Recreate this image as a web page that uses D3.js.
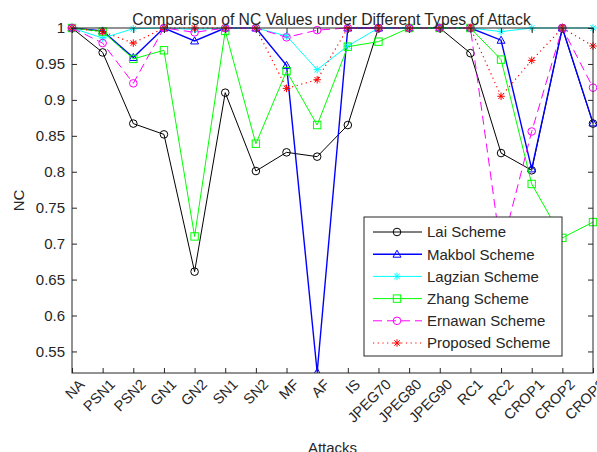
<!DOCTYPE html>
<html><head><meta charset="utf-8">
<script src="https://cdnjs.cloudflare.com/ajax/libs/d3/7.8.5/d3.min.js"></script>
<style>
html,body{margin:0;padding:0;background:#fff;}
svg{display:block;font-family:"Liberation Sans",Arial,Helvetica,sans-serif;}
</style></head>
<body>
<svg id="chart" width="597" height="452"></svg>
<script>
const categories = ["NA","PSN1","PSN2","GN1","GN2","SN1","SN2","MF","AF","IS","JPEG70","JPEG80","JPEG90","RC1","RC2","CROP1","CROP2","CROP3"];
const yTicks = [0.55,0.6,0.65,0.7,0.75,0.8,0.85,0.9,0.95,1];
const seriesNames = ["Lai Scheme","Makbol Scheme","Lagzian Scheme","Zhang Scheme","Ernawan Scheme","Proposed Scheme"];
const lai      = [1, 0.966, 0.867, 0.852, 0.661, 0.910, 0.801, 0.827, 0.821, 0.865, 1, 1, 1, 0.965, 0.826, 0.802, 1, 0.867];
const makbol   = [1, 0.996, 0.959, 1, 0.982, 1, 1, 0.948, 0.521, 1, 1, 1, 1, 1, 0.983, 0.804, 1, 0.868];
const lagzian  = [1, 0.986, 0.999, 1, 0.998, 1, 1, 0.989, 0.942, 0.975, 1, 1, 1, 1, 0.995, 1, 1, 1];
const zhang    = [1, 0.995, 0.957, 0.969, 0.710, 0.996, 0.839, 0.940, 0.865, 0.974, 0.981, 1, 1, 1, 0.956, 0.783, 0.708, 0.730];
const ernawan  = [1, 0.979, 0.923, 1, 0.994, 1, 1, 0.987, 0.997, 1, 1, 1, 1, 1, 0.690, 0.856, 1, 0.917];
const proposed = [1, 0.995, 0.979, 1, 1, 1, 1, 0.916, 0.928, 1, 1, 1, 1, 1, 0.905, 0.955, 1, 0.975];

const seriesData = [lai, makbol, lagzian, zhang, ernawan, proposed];
const styles = [
  {color:"#000000", dash:null, marker:"circle", width:1},
  {color:"#0000ff", dash:null, marker:"triangle", width:1.4},
  {color:"#00ffff", dash:null, marker:"star", width:1},
  {color:"#00ff00", dash:null, marker:"square", width:1},
  {color:"#ff00ff", dash:"9,5", marker:"circle", width:1},
  {color:"#ff0000", dash:"1.2,3.5", marker:"star", width:1.2}
];

const svg = d3.select("#chart");
const L = 72, R = 593, T = 28, B = 373;
const x = d3.scalePoint().domain(categories).range([L, R]);
const y = d3.scaleLinear().domain([0.52, 1]).range([B, T]);
const axisColor = "#262626";

svg.append("rect").attr("x",0).attr("y",0).attr("width",597).attr("height",452).attr("fill","#fff");

const defs = svg.append("defs");
defs.append("clipPath").attr("id","clip").append("rect")
  .attr("x", L-6).attr("y", T-6).attr("width", R-L+12).attr("height", B-T+6);

function drawMarker(g, type, cx, cy, color){
  if(type==="circle"){
    g.append("circle").attr("cx",cx).attr("cy",cy).attr("r",3.8)
     .attr("fill","none").attr("stroke",color).attr("stroke-width",1);
  } else if(type==="square"){
    g.append("rect").attr("x",cx-3.7).attr("y",cy-3.7).attr("width",7.4).attr("height",7.4)
     .attr("fill","none").attr("stroke",color).attr("stroke-width",1);
  } else if(type==="triangle"){
    const s=4;
    g.append("path").attr("d",`M${cx},${cy-s}L${cx+s},${cy+s*0.75}L${cx-s},${cy+s*0.75}Z`)
     .attr("fill","none").attr("stroke",color).attr("stroke-width",1);
  } else if(type==="star"){
    const s=3.8, d=s*0.72;
    g.append("path").attr("d",`M${cx-s},${cy}H${cx+s}M${cx},${cy-s}V${cy+s}M${cx-d},${cy-d}L${cx+d},${cy+d}M${cx-d},${cy+d}L${cx+d},${cy-d}`)
     .attr("fill","none").attr("stroke",color).attr("stroke-width",1);
  }
}

const plot = svg.append("g").attr("clip-path","url(#clip)");

const yAxisL = d3.axisLeft(y).tickValues(yTicks).tickSize(-5).tickPadding(7).tickFormat(d=>d3.format("")(+d.toFixed(2)));
const gyL = svg.append("g").attr("transform",`translate(${L},0)`).call(yAxisL);
const gyR = svg.append("g").attr("transform",`translate(${R},0)`).call(d3.axisRight(y).tickValues(yTicks).tickSize(-5).tickFormat(""));
const gxB = svg.append("g").attr("transform",`translate(0,${B})`).call(d3.axisBottom(x).tickSize(-5).tickFormat(""));
const gxT = svg.append("g").attr("transform",`translate(0,${T})`).call(d3.axisTop(x).tickSize(-5).tickFormat(""));
[gyL,gyR,gxB,gxT].forEach(g=>{
  g.select(".domain").remove();
  g.selectAll(".tick line").attr("stroke",axisColor);
});
gyL.selectAll(".tick text").attr("fill",axisColor).style("font-size","15px")
  .style("font-family","'Liberation Sans',Arial,sans-serif");

svg.append("rect").attr("x",L).attr("y",T).attr("width",R-L).attr("height",B-T)
  .attr("fill","none").attr("stroke",axisColor).attr("stroke-width",1);

categories.forEach(c=>{
  svg.append("text").attr("transform",`translate(${x(c)+6},${B+5}) rotate(-45)`)
    .attr("text-anchor","end").attr("dy","0.72em")
    .attr("fill",axisColor).style("font-size","14.5px").text(c);
});

const line = d3.line().x((d,i)=>x(categories[i])).y(d=>y(d));
seriesData.forEach((data,si)=>{
  const st = styles[si];
  const p = plot.append("path").datum(data).attr("d",line)
    .attr("fill","none").attr("stroke",st.color).attr("stroke-width",st.width)
    .attr("stroke-linejoin","miter");
  if(st.dash) p.attr("stroke-dasharray",st.dash);
  const mg = plot.append("g");
  data.forEach((v,i)=>drawMarker(mg, st.marker, x(categories[i]), y(v), st.color));
});

svg.append("text").attr("x",(L+R)/2-1).attr("y",25).attr("text-anchor","middle")
  .attr("fill",axisColor).style("font-size","15.7px")
  .text("Comparison of NC Values under Different Types of Attack");

svg.append("text").attr("transform",`translate(24,${(T+B)/2}) rotate(-90)`)
  .attr("text-anchor","middle").attr("fill",axisColor).style("font-size","15px").text("NC");
svg.append("text").attr("x",(L+R)/2).attr("y",453).attr("text-anchor","middle")
  .attr("fill",axisColor).style("font-size","15px").text("Attacks");

const lg = svg.append("g");
const lx = 364, ly = 217, lw = 198, lh = 139;
lg.append("rect").attr("x",lx).attr("y",ly).attr("width",lw).attr("height",lh)
  .attr("fill","#fff").attr("stroke",axisColor).attr("stroke-width",1);
seriesNames.forEach((name,i)=>{
  const st = styles[i];
  const cy = ly + 15 + i*22.2;
  const ln = lg.append("line").attr("x1",lx+9).attr("x2",lx+58).attr("y1",cy).attr("y2",cy)
    .attr("stroke",st.color).attr("stroke-width",st.width);
  if(st.dash) ln.attr("stroke-dasharray", st.dash);
  drawMarker(lg, st.marker, lx+33, cy, st.color);
  lg.append("text").attr("x",lx+63).attr("y",cy).attr("dy","0.36em")
    .attr("fill",axisColor).style("font-size","15px").text(name);
});
</script>
</body></html>
